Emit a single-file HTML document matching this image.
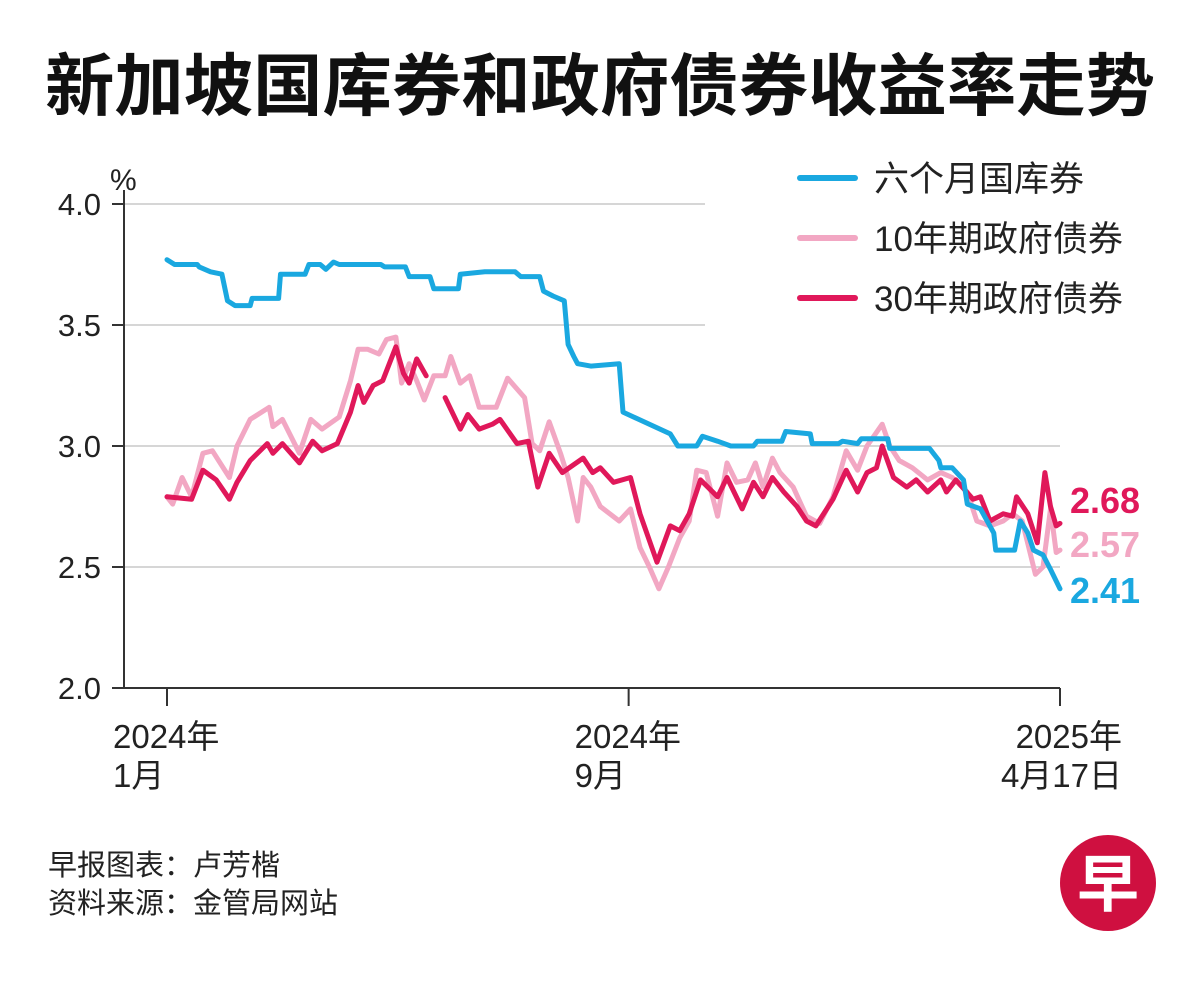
<!DOCTYPE html>
<html><head><meta charset="utf-8">
<style>
body{margin:0;background:#fff;width:1200px;height:980px;overflow:hidden;font-family:"Liberation Sans","Noto Sans CJK SC",sans-serif;}
</style></head>
<body>
<svg id="chart" width="1200" height="980" xmlns="http://www.w3.org/2000/svg" font-family="'Liberation Sans','Noto Sans CJK SC',sans-serif">
<text x="600" y="110" text-anchor="middle" font-size="68" font-weight="bold" fill="#111" textLength="1110" lengthAdjust="spacingAndGlyphs" font-family="'Noto Sans CJK SC',sans-serif">新加坡国库券和政府债券收益率走势</text>
<g id="grid"></g>
<g id="axes"></g>
<g id="series"></g>
<g>
<line x1="800" y1="178" x2="855" y2="178" stroke="#1aa8e0" stroke-width="6" stroke-linecap="round"/>
<text x="874" y="191" font-size="35" fill="#222">六个月国库券</text>
<line x1="800" y1="238" x2="855" y2="238" stroke="#f2a7c3" stroke-width="6" stroke-linecap="round"/>
<text x="874" y="251" font-size="35" fill="#222">10年期政府债券</text>
<line x1="800" y1="298" x2="855" y2="298" stroke="#e0185a" stroke-width="6" stroke-linecap="round"/>
<text x="874" y="311" font-size="35" fill="#222">30年期政府债券</text>
</g>
<text x="1070" y="513" font-size="36" font-weight="bold" fill="#e0185a">2.68</text>
<text x="1070" y="557" font-size="36" font-weight="bold" fill="#f2a7c3">2.57</text>
<text x="1070" y="603" font-size="36" font-weight="bold" fill="#1aa8e0">2.41</text>
<text x="48" y="875" font-size="29" fill="#222">早报图表：卢芳楷</text>
<text x="48" y="913" font-size="29" fill="#222">资料来源：金管局网站</text>
<g>
<circle cx="1108" cy="883" r="48" fill="#cf1040"/>
<text x="1108" y="906" text-anchor="middle" font-size="62" font-weight="bold" fill="#fff" font-family="'Noto Sans CJK SC',sans-serif">早</text>
</g>
</svg>
<script>
const yTicks=[2.0,2.5,3.0,3.5,4.0];
const yTickLabels=["2.0","2.5","3.0","3.5","4.0"];
const xTickDays=[0,244,472];
const xTickLine1=["2024年","2024年","2025年"];
const xTickLine2=["1月","9月","4月17日"];
const tbillDays=[0,4,16,17,23,29,32,36,44,45,59,60,73,75,81,84,88,91,113,115,126,128,139,141,154,155,168,184,187,197,199,204,210,212,215,217,224,239,241,266,270,280,283,291,298,310,312,325,327,340,341,355,357,365,367,381,382,403,408,409,415,421,423,430,437,438,448,451,455,458,463,467,472];
const tbillValues=[3.77,3.75,3.75,3.74,3.72,3.71,3.60,3.58,3.58,3.61,3.61,3.71,3.71,3.75,3.75,3.73,3.76,3.75,3.75,3.74,3.74,3.70,3.70,3.65,3.65,3.71,3.72,3.72,3.70,3.70,3.64,3.62,3.60,3.42,3.37,3.34,3.33,3.34,3.14,3.05,3.00,3.00,3.04,3.02,3.00,3.00,3.02,3.02,3.06,3.05,3.01,3.01,3.02,3.01,3.03,3.03,2.99,2.99,2.94,2.91,2.91,2.86,2.76,2.74,2.64,2.57,2.57,2.69,2.64,2.57,2.55,2.49,2.41];
const bond10Days=[0,3,8,13,19,24,33,37,44,54,56,61,70,76,82,91,97,101,106,112,116,121,124,128,132,136,141,147,150,155,160,165,174,180,189,193,197,202,208,212,217,220,224,229,239,245,250,255,260,265,271,276,280,285,291,296,301,307,311,315,320,324,331,338,345,352,359,365,370,378,382,387,394,402,409,415,423,428,435,442,447,452,459,463,467,470,472];
const bond10Values=[2.79,2.76,2.87,2.79,2.97,2.98,2.87,3.00,3.11,3.16,3.08,3.11,2.97,3.11,3.07,3.12,3.27,3.40,3.40,3.38,3.44,3.45,3.26,3.34,3.27,3.19,3.29,3.29,3.37,3.26,3.29,3.16,3.16,3.28,3.20,3.01,2.98,3.10,2.97,2.87,2.69,2.87,2.83,2.75,2.69,2.74,2.58,2.50,2.41,2.50,2.62,2.69,2.90,2.89,2.71,2.93,2.85,2.86,2.93,2.83,2.95,2.89,2.83,2.71,2.68,2.79,2.98,2.90,3.00,3.09,3.00,2.94,2.91,2.86,2.89,2.87,2.81,2.69,2.67,2.69,2.72,2.69,2.47,2.50,2.74,2.56,2.57];
const bond30Days=[0,13,19,26,33,37,44,53,56,61,70,77,82,90,97,101,104,109,114,121,125,128,132,137,142,147,155,159,165,172,176,185,191,196,202,209,220,225,229,236,245,250,259,266,271,276,282,291,296,304,310,315,320,326,333,338,343,352,359,365,370,375,378,384,391,396,402,409,412,417,426,430,435,442,447,449,455,460,464,467,470,472];
const bond30Values=[2.79,2.78,2.90,2.86,2.78,2.85,2.94,3.01,2.97,3.01,2.93,3.02,2.98,3.01,3.14,3.25,3.18,3.25,3.27,3.41,3.30,3.26,3.36,3.29,null,3.20,3.07,3.13,3.07,3.09,3.11,3.01,3.02,2.83,2.97,2.89,2.95,2.89,2.91,2.85,2.87,2.72,2.52,2.67,2.65,2.72,2.86,2.79,2.87,2.74,2.85,2.79,2.87,2.81,2.75,2.69,2.67,2.78,2.90,2.81,2.89,2.91,3.00,2.87,2.83,2.86,2.81,2.86,2.81,2.86,2.78,2.79,2.69,2.72,2.71,2.79,2.72,2.60,2.89,2.75,2.67,2.68];

const NS="http://www.w3.org/2000/svg";
const X0=167,X1=1060,D1=472,Y0=688,Y1=204;
function xs(d){return X0+(X1-X0)*d/D1;}
function ys(v){return Y0-(Y0-Y1)*(v-2)/2;}
function mk(tag,attrs,parent){const e=document.createElementNS(NS,tag);for(const k in attrs)e.setAttribute(k,attrs[k]);parent.appendChild(e);return e;}
const grid=document.getElementById('grid'),axes=document.getElementById('axes'),ser=document.getElementById('series');
yTicks.forEach((t,i)=>{
  const right=t>=3.5?705:1060;
  const g=mk('line',{x1:124,x2:right,y1:ys(t),y2:ys(t),stroke:t===2?'#333':'#c8c8c8','stroke-width':t===2?2:1.5},grid);
  
  
  mk('line',{x1:112,x2:124,y1:ys(t),y2:ys(t),stroke:'#333','stroke-width':2},axes);
  const tx=mk('text',{x:101,y:ys(t)+11,'text-anchor':'end','font-size':31,fill:'#222'},axes);
  tx.textContent=yTickLabels[i];
  
  
});
const yax=mk('line',{x1:124,x2:124,y1:190,y2:ys(2),stroke:'#333','stroke-width':2},axes);


const pct=mk('text',{x:110,y:190,'font-size':30,fill:'#222'},axes);pct.textContent='%';


xTickDays.forEach((d,i)=>{
  mk('line',{x1:xs(d),x2:xs(d),y1:688,y2:706,stroke:'#333','stroke-width':2},axes);
  const anchor=i===2?'end':'start';
  const x=i===2?xs(d)+62:xs(d)-54;
  const t1=mk('text',{x:x,y:748,'text-anchor':anchor,'font-size':33,fill:'#222'},axes);t1.textContent=xTickLine1[i];
  
  
  const t2=mk('text',{x:x,y:787,'text-anchor':anchor,'font-size':33,fill:'#222'},axes);t2.textContent=xTickLine2[i];
  
  
});
function drawLine(days,vals,color,name){
  let d='',pen=false;
  days.forEach((dd,i)=>{const v=vals[i];if(v===null){pen=false;return;}d+=(pen?'L':'M')+xs(dd).toFixed(1)+' '+ys(v).toFixed(1)+' ';pen=true;});
  const p=mk('path',{d:d,fill:'none',stroke:color,'stroke-width':5,'stroke-linejoin':'round','stroke-linecap':'round'},ser);
  
  
}
drawLine(bond10Days,bond10Values,'#f2a7c3','line-10y-bond');
drawLine(bond30Days,bond30Values,'#e0185a','line-30y-bond');
drawLine(tbillDays,tbillValues,'#1aa8e0','line-6m-tbill');
</script>
</body></html>
